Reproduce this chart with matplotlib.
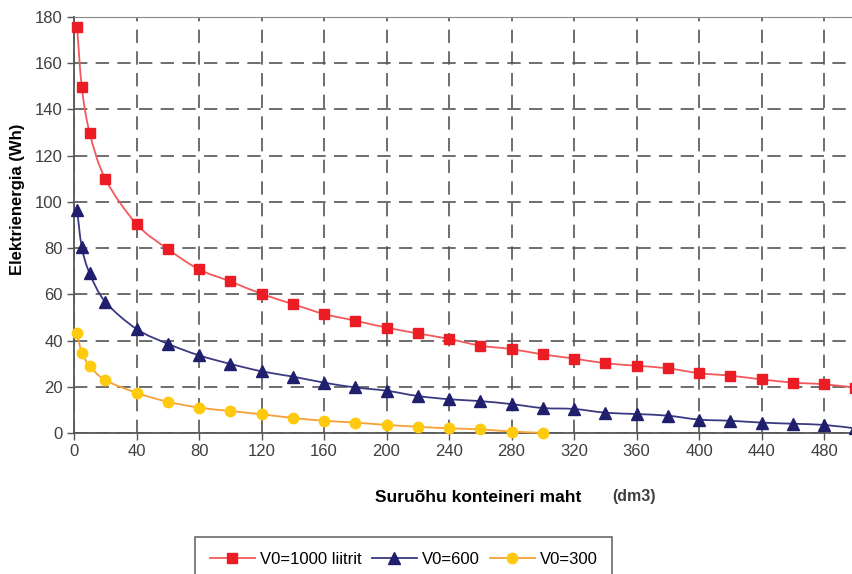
import numpy as np
import matplotlib
matplotlib.use("Agg")
import matplotlib.pyplot as plt
from matplotlib.path import Path
from matplotlib.patches import PathPatch

plt.rcParams["font.family"] = ["Liberation Sans", "DejaVu Sans"]

RED = "#EC1C24"; RED_LN = "#F4585C"
NAVY = "#1F1F6E"; NAVY_LN = "#3A3A82"
GOLD = "#FFC90E"; GOLD_LN = "#F7A033"
TICK = "#3F3F3F"

# ---- data ----
x_full = [2, 5, 10, 20, 40, 60, 80, 100, 120, 140, 160, 180, 200, 220, 240, 260,
          280, 300, 320, 340, 360, 380, 400, 420, 440, 460, 480, 500]
v1000 = [175.7, 149.6, 130.0, 110.0, 90.4, 79.6, 70.8, 65.6, 60.2, 55.8, 51.5, 48.6,
         45.6, 43.1, 40.7, 37.8, 36.3, 34.0, 32.2, 30.2, 29.1, 28.0, 25.9, 24.8,
         23.2, 21.8, 21.1, 19.6]
v600 = [96.5, 80.4, 69.1, 56.8, 45.0, 38.6, 33.6, 29.9, 26.7, 24.4, 21.8, 19.7,
        18.3, 16.0, 14.6, 13.8, 12.5, 10.8, 10.4, 8.8, 8.2, 7.5, 5.8, 5.3,
        4.5, 4.0, 3.5, 2.0]
x_300 = [2, 5, 10, 20, 40, 60, 80, 100, 120, 140, 160, 180, 200, 220, 240, 260, 280, 300]
v300 = [43.1, 34.8, 29.0, 22.9, 17.4, 13.5, 11.0, 9.5, 8.1, 6.5, 5.3, 4.5,
        3.5, 2.7, 2.0, 1.6, 0.6, 0.1]


def smooth_path(xs, ys):
    # Excel-style smoothed line: cubic Bezier segments between the data points
    p = np.column_stack([xs, ys]).astype(float)
    verts = [p[0]]; codes = [Path.MOVETO]
    for i in range(len(p) - 1):
        p0 = p[i - 1] if i > 0 else p[i]
        p3 = p[i + 2] if i + 2 < len(p) else p[i + 1]
        c1 = p[i] + (p[i + 1] - p0) / 6
        c2 = p[i + 1] - (p3 - p[i]) / 6
        verts += [c1, c2, p[i + 1]]; codes += [Path.CURVE4] * 3
    return Path(verts, codes)


fig = plt.figure(figsize=(8.53, 5.74), dpi=100)
ax = fig.add_axes([74/853, 1-433/574, 1-74/853, (433-17)/574])

series = [(x_full, v1000, RED_LN, RED, "s", 7, "V0=1000 liitrit"),
          (x_full, v600, NAVY_LN, NAVY, "^", 8, "V0=600"),
          (x_300, v300, GOLD_LN, GOLD, "o", 7.5, "V0=300")]
for xs, ys, lc, mc, mk, ms, lab in series:
    ax.add_patch(PathPatch(smooth_path(xs, ys), facecolor="none", edgecolor=lc,
                           lw=1.3, clip_on=False, zorder=3))
    ax.plot(xs, ys, ls="none", marker=mk, ms=ms, mfc=mc, mec=mc, clip_on=False, zorder=4)
    ax.plot([], [], color=lc, lw=1.3, marker=mk, ms=ms, mfc=mc, mec=mc, label=lab)

ax.set_xlim(0, 498.5)
ax.set_ylim(0, 180)
ax.set_xticks(np.arange(0, 481, 40))
ax.set_yticks(np.arange(0, 181, 20))
ax.grid(True, color="#555555", lw=1.2, ls=(0, (8, 5)))
ax.set_axisbelow(True)
ax.tick_params(direction="out", length=5, width=1, colors="#555555",
               labelcolor=TICK, labelsize=12, pad=3)
for s in ("left", "bottom"):
    ax.spines[s].set_color("#555555"); ax.spines[s].set_linewidth(1.3)
ax.spines["top"].set_color("#888888")
ax.spines["right"].set_visible(False)

fig.text(18/853, 1-199/574, "Elektrienergia (Wh)", rotation=90, ha="center", va="center",
         fontsize=12, fontweight="bold", color="black")
fig.text(478/853, 1-497/574, "Suruõhu konteineri maht", ha="center", va="center",
         fontsize=12.5, fontweight="bold", color="black")
fig.text(634/853, 1-496/574, "(dm3)", ha="center", va="center",
         fontsize=11.5, fontweight="bold", color=TICK)

leg = fig.legend(loc="upper left", bbox_to_anchor=(195/853, 1-537/574), ncol=3,
                 fontsize=12, frameon=True, fancybox=False, edgecolor="#444444",
                 handlelength=2.7, columnspacing=0.6, handletextpad=0.3,
                 borderpad=0.9, borderaxespad=0)
leg.get_frame().set_linewidth(1.2)

fig.savefig("out.png", dpi=100)
